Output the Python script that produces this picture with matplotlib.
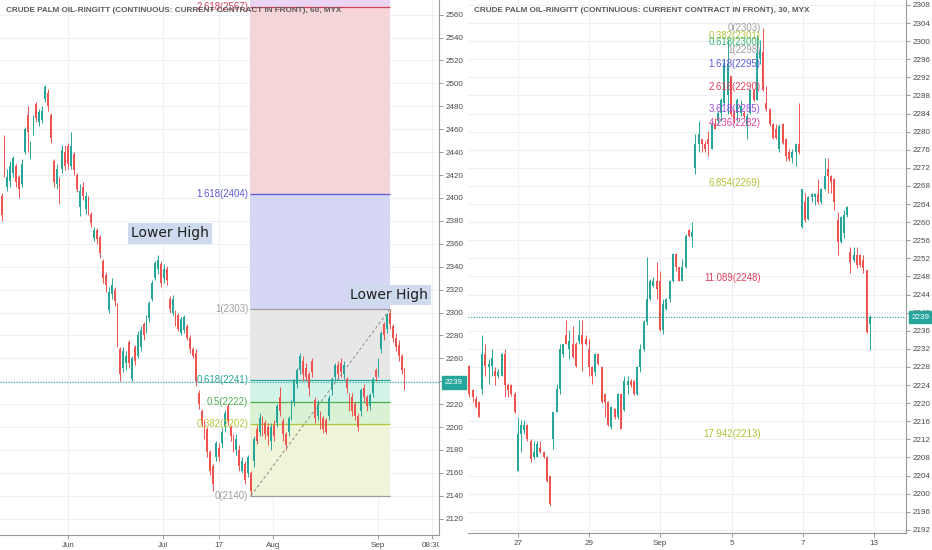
import matplotlib
matplotlib.use("Agg")
import matplotlib.pyplot as plt
import numpy as np
from matplotlib.transforms import Bbox, TransformedBbox

plt.rcParams["font.family"] = ["Liberation Sans", "DejaVu Sans"]

TITLE = "CRUDE PALM OIL-RINGITT (CONTINUOUS: CURRENT CONTRACT IN FRONT), {}, MYX"
UP = "#26a69a"
DOWN = "#ef5350"
TXT = "#4a4a4a"
GRID = "#edf0f4"
SPINE = "#9a9a9a"

# ---- 60 minute chart (left) ----
h1_open = [2402, 2450, 2410, 2415, 2422, 2428, 2418, 2412, 2440, 2472,
           2436, 2460, 2482, 2466, 2468, 2486, 2492, 2472, 2432, 2412,
           2416, 2425, 2440, 2445, 2428, 2438, 2420, 2392, 2410, 2390,
           2400, 2386, 2365, 2372, 2366, 2345, 2333, 2302, 2316, 2320,
           2306, 2268, 2252, 2256, 2274, 2242, 2270, 2262, 2270, 2290,
           2284, 2295, 2312, 2330, 2338, 2342, 2330, 2338, 2312, 2300,
           2300, 2298, 2282, 2285, 2288, 2278, 2268, 2265, 2230, 2214,
           2204, 2198, 2178, 2166, 2174, 2182, 2186, 2200, 2218, 2200,
           2190, 2180, 2180, 2162, 2168, 2160, 2160, 2170, 2198, 2196,
           2208, 2204, 2200, 2188, 2202, 2204, 2226, 2205, 2194, 2196,
           2210, 2222, 2238, 2250, 2258, 2252, 2246, 2258, 2224, 2210,
           2210, 2208, 2206, 2210, 2232, 2244, 2254, 2256, 2246, 2242,
           2228, 2226, 2220, 2210, 2214, 2234, 2226, 2218, 2230, 2250,
           2246, 2268, 2290, 2286, 2300, 2288, 2278, 2272, 2262, 2250]
h1_high = [2404, 2455, 2425, 2432, 2437, 2430, 2420, 2434, 2462, 2480,
           2450, 2472, 2484, 2478, 2480, 2499, 2495, 2474, 2434, 2430,
           2418, 2446, 2446, 2448, 2458, 2440, 2422, 2412, 2414, 2405,
           2402, 2388, 2375, 2374, 2368, 2347, 2335, 2322, 2330, 2322,
           2308, 2270, 2270, 2266, 2276, 2262, 2272, 2284, 2288, 2292,
           2298, 2310, 2328, 2345, 2350, 2345, 2342, 2341, 2314, 2315,
           2302, 2300, 2296, 2298, 2290, 2280, 2270, 2268, 2232, 2216,
           2206, 2200, 2180, 2168, 2188, 2186, 2200, 2215, 2221, 2202,
           2194, 2194, 2184, 2174, 2170, 2176, 2162, 2192, 2202, 2212,
           2210, 2206, 2204, 2204, 2206, 2220, 2235, 2208, 2196, 2210,
           2224, 2242, 2252, 2265, 2262, 2256, 2248, 2260, 2226, 2224,
           2214, 2210, 2208, 2228, 2244, 2256, 2258, 2260, 2258, 2244,
           2230, 2230, 2222, 2212, 2234, 2238, 2228, 2230, 2244, 2252,
           2260, 2284, 2292, 2300, 2303, 2290, 2282, 2276, 2264, 2252]
h1_low = [2380, 2418, 2406, 2410, 2418, 2410, 2400, 2410, 2438, 2440,
          2434, 2455, 2466, 2463, 2465, 2484, 2476, 2448, 2410, 2408,
          2395, 2422, 2424, 2425, 2425, 2420, 2405, 2384, 2398, 2386,
          2385, 2375, 2362, 2360, 2348, 2326, 2318, 2300, 2312, 2306,
          2270, 2240, 2248, 2250, 2252, 2240, 2254, 2260, 2266, 2276,
          2282, 2292, 2310, 2328, 2334, 2322, 2326, 2324, 2300, 2298,
          2288, 2284, 2280, 2282, 2276, 2265, 2260, 2236, 2216, 2200,
          2190, 2174, 2158, 2144, 2170, 2170, 2182, 2196, 2202, 2188,
          2178, 2176, 2162, 2160, 2150, 2156, 2140, 2165, 2185, 2192,
          2192, 2190, 2184, 2180, 2188, 2200, 2210, 2188, 2180, 2192,
          2206, 2218, 2234, 2246, 2240, 2240, 2227, 2244, 2204, 2206,
          2198, 2195, 2194, 2206, 2228, 2240, 2242, 2244, 2242, 2230,
          2214, 2210, 2206, 2197, 2210, 2222, 2214, 2215, 2226, 2240,
          2244, 2265, 2276, 2282, 2286, 2274, 2266, 2258, 2246, 2232]
h1_close = [2385, 2422, 2418, 2428, 2435, 2414, 2408, 2430, 2460, 2458,
            2448, 2470, 2470, 2475, 2476, 2497, 2480, 2452, 2414, 2425,
            2400, 2442, 2428, 2430, 2445, 2424, 2408, 2406, 2402, 2402,
            2390, 2378, 2372, 2364, 2352, 2330, 2324, 2318, 2324, 2310,
            2275, 2246, 2266, 2262, 2256, 2260, 2258, 2280, 2285, 2280,
            2295, 2308, 2326, 2343, 2346, 2326, 2338, 2328, 2303, 2312,
            2290, 2286, 2294, 2296, 2278, 2268, 2262, 2240, 2220, 2204,
            2194, 2178, 2162, 2150, 2186, 2174, 2196, 2212, 2206, 2192,
            2182, 2190, 2166, 2170, 2154, 2174, 2144, 2190, 2188, 2208,
            2196, 2194, 2192, 2200, 2192, 2218, 2214, 2194, 2184, 2208,
            2222, 2240, 2250, 2262, 2246, 2244, 2234, 2248, 2208, 2220,
            2202, 2198, 2196, 2225, 2242, 2254, 2246, 2248, 2254, 2234,
            2218, 2214, 2210, 2200, 2232, 2226, 2218, 2228, 2242, 2244,
            2256, 2282, 2280, 2298, 2290, 2278, 2270, 2262, 2250, 2239]
h1_tick_pos = [22.9, 55.7, 75.0, 93.6, 129.8, 148.4]
h1_tick_labels = ["Jun", "Jul", "17", "Aug", "Sep", "08:30"]
h1_yticks = np.arange(2120, 2561, 20)
h1_fib_ratios = [0, 0.382, 0.5, 0.618, 1, 1.618, 2.618, 4.236]
h1_fib_colors = ["#9e9e9e", "#b5c63a", "#4caf50", "#26a69a", "#9e9e9e",
                 "#5b5bd6", "#d8405a", "#b85bd6"]
h1_fib_fills = ["#eef5d8", "#d9f2d3", "#d3f3e8", "#e7e7e8", "#d6d6f5",
                "#f5d5d8", "#ecd5f2"]
h1_notes = [("Lower High", 58.0, 2369), ("Lower High", 133.6, 2315)]

# ---- 30 minute chart (right) ----
m30_open = [2228.1, 2222.8, 2221.0, 2220.2, 2223.2, 2230.9, 2228.0, 2228.3, 2227.2, 2226.1,
            2226.1, 2230.9, 2223.9, 2223.9, 2222.1, 2205.1, 2213.2, 2214.0, 2215.1, 2211.7,
            2208.1, 2208.1, 2210.0, 2209.2, 2208.1, 2204.0, 2212.1, 2218.0, 2223.2, 2230.9,
            2235.0, 2232.0, 2233.1, 2233.1, 2233.8, 2235.0, 2234.2, 2232.0, 2228.0, 2226.8,
            2230.9, 2228.0, 2222.1, 2220.2, 2214.7, 2218.7, 2216.9, 2222.1, 2218.4, 2223.9,
            2225.0, 2225.0, 2222.1, 2228.0, 2232.0, 2237.9, 2243.1, 2246.0, 2247.1, 2247.1,
            2236.1, 2240.8, 2243.1, 2247.1, 2253.0, 2250.0, 2247.1, 2250.0, 2258.2, 2256.8,
            2272.0, 2277.2, 2278.3, 2277.2, 2278.3, 2276.1, 2281.6, 2282.3, 2284.2, 2286.4,
            2288.0, 2292.3, 2284.2, 2284.2, 2284.2, 2284.2, 2281.2, 2284.2, 2289.3, 2287.1,
            2296.0, 2297.5, 2286.4, 2284.9, 2281.6, 2280.5, 2276.1, 2281.6, 2278.3, 2275.4,
            2274.2, 2275.4, 2277.2, 2258.9, 2264.4, 2260.7, 2265.5, 2265.5, 2266.2, 2264.4,
            2267.3, 2271.7, 2270.2, 2269.5, 2260.4, 2255.6, 2257.5, 2261.5, 2253.5, 2251.6,
            2252.7, 2252.7, 2251.6, 2249.4, 2237.6]
m30_high = [2228.5, 2223.2, 2221.5, 2220.5, 2235.0, 2233.1, 2229.8, 2232.0, 2228.0, 2227.5,
            2231.0, 2232.0, 2224.5, 2224.3, 2222.5, 2216.9, 2216.2, 2216.2, 2215.5, 2212.0,
            2211.7, 2211.7, 2211.7, 2209.5, 2208.3, 2204.0, 2218.0, 2224.3, 2233.1, 2233.1,
            2238.3, 2236.1, 2237.0, 2233.5, 2238.3, 2238.3, 2235.0, 2234.2, 2228.3, 2231.0,
            2231.0, 2228.3, 2222.3, 2220.4, 2219.3, 2219.0, 2222.3, 2222.3, 2226.1, 2226.1,
            2225.3, 2225.2, 2228.3, 2233.1, 2238.3, 2252.3, 2247.5, 2247.8, 2251.2, 2249.3,
            2243.1, 2243.3, 2247.2, 2253.2, 2253.2, 2250.2, 2251.9, 2257.4, 2258.4, 2260.0,
            2279.4, 2282.3, 2278.3, 2277.9, 2280.1, 2282.3, 2283.1, 2284.5, 2287.5, 2296.0,
            2300.5, 2292.3, 2284.9, 2287.5, 2287.1, 2284.5, 2284.2, 2289.5, 2289.5, 2301.4,
            2300.3, 2303.0, 2290.0, 2285.3, 2282.0, 2281.6, 2281.6, 2282.0, 2278.6, 2276.1,
            2276.1, 2277.5, 2286.4, 2267.3, 2266.5, 2265.8, 2266.5, 2266.5, 2269.5, 2267.5,
            2274.2, 2274.2, 2270.4, 2269.7, 2262.2, 2261.3, 2262.6, 2263.5, 2254.6, 2254.6,
            2254.6, 2253.0, 2252.7, 2249.4, 2239.5]
m30_low = [2221.3, 2220.2, 2219.0, 2216.9, 2222.1, 2226.1, 2224.3, 2226.1, 2223.9, 2225.5,
           2226.0, 2221.3, 2221.3, 2221.5, 2217.8, 2205.1, 2209.2, 2213.2, 2211.7, 2207.0,
           2207.7, 2208.0, 2209.0, 2207.9, 2202.5, 2197.3, 2209.9, 2218.0, 2222.1, 2230.2,
           2233.0, 2229.8, 2230.0, 2228.0, 2233.1, 2227.2, 2232.8, 2226.1, 2224.3, 2226.1,
           2228.5, 2220.0, 2216.9, 2215.0, 2214.3, 2216.5, 2216.5, 2214.3, 2218.2, 2222.1,
           2223.5, 2221.8, 2221.8, 2226.8, 2231.6, 2237.2, 2242.8, 2245.6, 2243.1, 2236.0,
           2235.3, 2240.5, 2242.3, 2246.8, 2249.3, 2246.9, 2247.0, 2249.8, 2256.8, 2254.5,
           2270.6, 2275.4, 2275.4, 2275.4, 2274.6, 2276.1, 2280.5, 2281.6, 2282.3, 2286.0,
           2284.0, 2283.4, 2282.0, 2282.3, 2283.4, 2283.0, 2278.3, 2284.0, 2286.8, 2287.0,
           2295.0, 2289.0, 2284.5, 2281.2, 2278.3, 2278.3, 2275.4, 2277.2, 2273.5, 2273.5,
           2273.1, 2272.4, 2275.0, 2258.6, 2260.0, 2260.4, 2264.4, 2263.7, 2264.0, 2264.0,
           2267.0, 2266.5, 2266.5, 2262.6, 2252.7, 2255.3, 2256.4, 2261.1, 2248.7, 2251.3,
           2249.8, 2250.2, 2248.7, 2235.4, 2231.8]
m30_close = [2222.1, 2221.3, 2219.1, 2217.0, 2230.9, 2228.3, 2228.7, 2230.0, 2226.1, 2226.8,
             2230.9, 2223.9, 2222.8, 2222.1, 2218.0, 2213.2, 2215.1, 2215.1, 2212.1, 2207.7,
             2209.2, 2211.0, 2209.2, 2208.1, 2202.9, 2197.8, 2218.0, 2223.2, 2232.0, 2233.1,
             2233.1, 2233.8, 2230.2, 2228.3, 2235.0, 2233.1, 2233.1, 2228.0, 2226.1, 2230.9,
             2228.7, 2220.2, 2220.2, 2215.1, 2219.1, 2216.9, 2222.1, 2214.3, 2225.0, 2225.0,
             2223.9, 2222.1, 2228.0, 2232.0, 2237.9, 2243.1, 2247.1, 2247.1, 2245.3, 2236.1,
             2241.9, 2243.1, 2247.1, 2253.0, 2250.0, 2247.1, 2250.0, 2257.0, 2257.0, 2257.8,
             2277.2, 2279.4, 2277.2, 2276.1, 2277.2, 2281.6, 2280.5, 2284.2, 2287.1, 2295.2,
             2295.0, 2284.0, 2282.7, 2287.1, 2285.6, 2283.4, 2283.4, 2289.3, 2287.1, 2297.4,
             2298.1, 2289.3, 2284.9, 2281.6, 2278.6, 2278.6, 2281.2, 2277.5, 2274.6, 2273.9,
             2275.4, 2277.2, 2275.4, 2267.3, 2260.4, 2265.5, 2266.2, 2266.2, 2264.4, 2267.3,
             2270.2, 2270.2, 2268.8, 2264.4, 2255.6, 2261.1, 2261.5, 2263.3, 2251.3, 2252.7,
             2250.5, 2250.5, 2249.8, 2235.8, 2239.0]
m30_tick_pos = [15.1, 37.1, 59.0, 81.3, 103.3, 125.3]
m30_tick_labels = ["27", "29", "Sep", "5", "7", "13"]
m30_yticks = np.arange(2192, 2309, 4)
m30_fib_one = 2298
m30_fib_ratios = [0, 0.382, 0.618, 1, 1.618, 2.618, 3.618, 4.236, 6.854, 11.089, 17.942]
m30_fib_colors = ["#9e9e9e", "#b5c63a", "#3cb878", "#9e9e9e", "#5b5bd6", "#e0405a",
                  "#9c4de0", "#e040a0", "#b5c234", "#e0405a", "#b5c234"]


def draw_candles(ax, o, h, l, c, min_body):
    o, h, l, c = map(np.asarray, (o, h, l, c))
    x = np.arange(len(o))
    colors = np.where(c >= o, UP, DOWN)
    ax.vlines(x, l, h, colors=colors, lw=0.7, zorder=3)
    body = np.maximum(np.abs(c - o), min_body)
    ax.bar(x, body, 0.62, bottom=np.minimum(o, c), color=colors, lw=0, zorder=4)


def style_axes(ax, yticks, xpos, xlabels, title):
    ax.set_yticks(yticks)
    ax.set_xticks(xpos)
    ax.set_xticklabels(xlabels)
    ax.yaxis.tick_right()
    ax.tick_params(axis="both", length=3, color=SPINE, labelsize=5.8,
                   labelcolor=TXT, pad=2, width=0.7)
    ax.grid(color=GRID, lw=0.8)
    ax.set_axisbelow(True)
    for side in ("top", "left"):
        ax.spines[side].set_visible(False)
    for side in ("right", "bottom"):
        ax.spines[side].set_color(SPINE)
        ax.spines[side].set_linewidth(0.8)
    ax.text(6 / ax.bbox.width, 1 - 10 / ax.bbox.height, title,
            transform=ax.transAxes, fontsize=5.9, fontweight="bold",
            color="#5a5a5a", va="center", ha="left", zorder=12)


def price_tag(ax, price):
    ax.axhline(price, color=UP, lw=0.8, ls=(0, (1, 1.4)), zorder=5)
    ax.annotate(f"{price:.0f}", xy=(1, price), xycoords=ax.get_yaxis_transform(),
                xytext=(4.2, 0), textcoords="offset points", ha="left", va="center",
                fontsize=5.8, color="white", annotation_clip=False, zorder=12,
                bbox=dict(boxstyle="square,pad=0.35", fc=UP, ec=UP))


fig = plt.figure(figsize=(9.32, 5.5), dpi=100)
ax1 = fig.add_axes([0, 1 - 535 / 550, 439 / 932, 535 / 550])
ax2 = fig.add_axes([468 / 932, 1 - 533 / 550, 438 / 932, 533 / 550])

# left panel
ax1.set_xlim(-0.52, 150.9)
ax1.set_ylim(2105.8, 2572.8)
style_axes(ax1, h1_yticks, h1_tick_pos, h1_tick_labels, TITLE.format(60))

lo_i = int(np.argmin(h1_low))
hi_i = lo_i + int(np.argmax(h1_high[lo_i:]))
lo_p = h1_low[lo_i]
hi_p = h1_high[hi_i]
levels = [lo_p + r * (hi_p - lo_p) for r in h1_fib_ratios]
x0, x1 = lo_i - 0.3, hi_i
for k in range(len(levels) - 1):
    ax1.fill_between([x0, x1], levels[k], levels[k + 1], color=h1_fib_fills[k],
                     lw=0, zorder=1)
for r, lv, col in zip(h1_fib_ratios, levels, h1_fib_colors):
    ax1.hlines(lv, x0, x1, colors=col, lw=0.9, zorder=2)
    ax1.text(x0 - 0.6, lv, f"{r:g}({lv:.0f})", color=col, fontsize=6.9,
             ha="right", va="center", clip_on=True, zorder=6)
ax1.plot([lo_i, hi_i], [lo_p, hi_p], color="#8a8a8a", lw=0.7, ls=(0, (3, 2.5)),
         zorder=5)

draw_candles(ax1, h1_open, h1_high, h1_low, h1_close, 0.8)
price_tag(ax1, h1_close[-1])

for txt, xi, yp in h1_notes:
    ax1.text(xi, yp, txt, fontsize=10, family="DejaVu Sans", color="#1f1f1f",
             ha="center", va="center", zorder=8,
             bbox=dict(boxstyle="square,pad=0.22", fc="#cfdaee", ec="none"))

clip = TransformedBbox(Bbox([[0, 0], [439 / 932, 1]]), fig.transFigure)
for lbl in ax1.get_xticklabels():
    lbl.set_clip_box(clip)
    lbl.set_clip_on(True)

# right panel
ax2.set_xlim(-0.4, 135.2)
ax2.set_ylim(2191.3, 2309.1)
style_axes(ax2, m30_yticks, m30_tick_pos, m30_tick_labels, TITLE.format(30))

draw_candles(ax2, m30_open, m30_high, m30_low, m30_close, 0.25)
price_tag(ax2, m30_close[-1])

top_i = int(np.argmax(m30_high))
top_p = m30_high[top_i]
for r, col in zip(m30_fib_ratios, m30_fib_colors):
    lv = top_p - r * (top_p - m30_fib_one)
    ax2.text(top_i - 0.8, lv, f"{r:g}({lv:.0f})", color=col, fontsize=6.9,
             ha="right", va="center", zorder=6)

fig.savefig("out.png", dpi=100, facecolor="white")
